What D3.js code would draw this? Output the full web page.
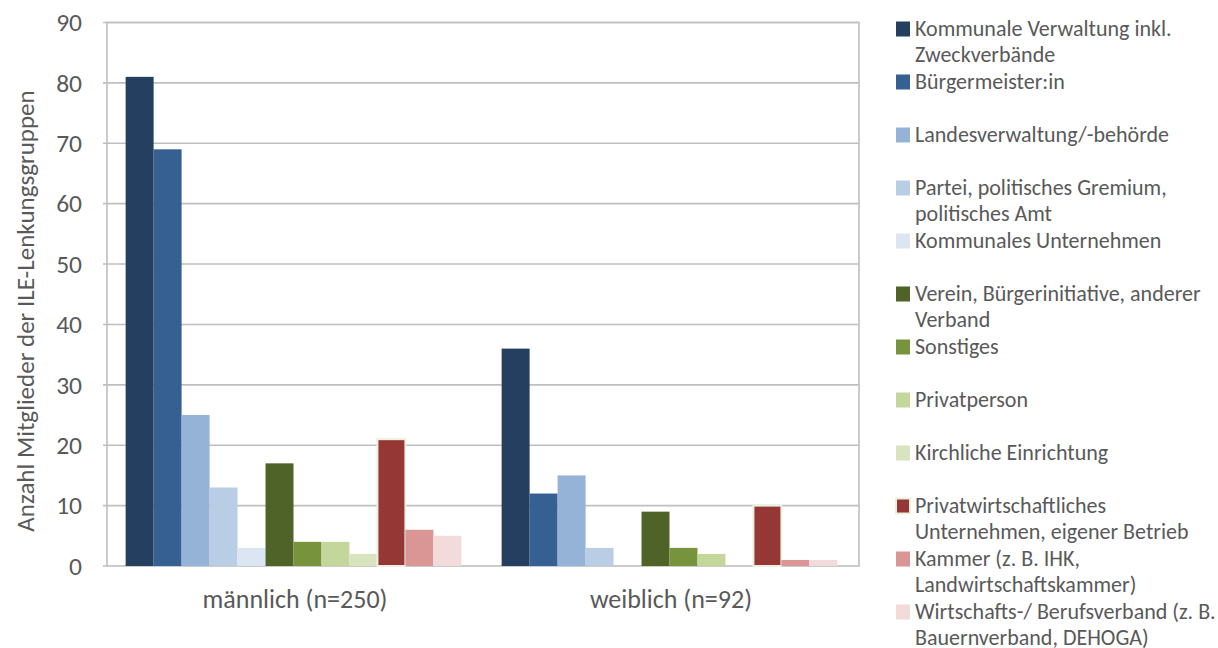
<!DOCTYPE html>
<html><head><meta charset="utf-8">
<script src="https://cdn.jsdelivr.net/npm/d3@7"></script>
<style>body{margin:0;background:#fff}svg{display:block}text{font-family:Carlito,Calibri,"Open Sans",sans-serif;fill:#595959}</style>
</head><body>
<svg id="c" width="1218" height="648"></svg>
<script>
const groups = ["männlich (n=250)", "weiblich (n=92)"];
const seriesNames = [
  ["Kommunale Verwaltung inkl.", "Zweckverbände"],
  ["Bürgermeister:in"],
  ["Landesverwaltung/-behörde"],
  ["Partei, politisches Gremium,", "politisches Amt"],
  ["Kommunales Unternehmen"],
  ["Verein, Bürgerinitiative, anderer", "Verband"],
  ["Sonstiges"],
  ["Privatperson"],
  ["Kirchliche Einrichtung"],
  ["Privatwirtschaftliches", "Unternehmen, eigener Betrieb"],
  ["Kammer (z. B. IHK,", "Landwirtschaftskammer)"],
  ["Wirtschafts-/ Berufsverband (z. B.", "Bauernverband, DEHOGA)"]
];
const maleValues   = [81, 69, 25, 13, 3, 17, 4, 4, 2, 21, 6, 5];
const femaleValues = [36, 12, 15, 3, 0, 9, 3, 2, 0, 10, 1, 1];
const colors = ["#243F60","#376092","#95B3D7","#B9CDE5","#DCE6F2","#4F6228","#77933C","#C3D69B","#D7E4BD","#953735","#D99694","#F2DCDB"];
const yTicks = [0,10,20,30,40,50,60,70,80,90];

const svg = d3.select("#c");
const L = 107, R = 859, T = 22.5, B = 566;
const y = d3.scaleLinear().domain([0,90]).range([B,T]);
const x0 = d3.scaleBand().domain(groups).range([L,R]);
const idx = d3.range(seriesNames.length);
const x1 = d3.scaleBand().domain(idx).range([0,x0.bandwidth()]).paddingOuter(0.72);

// gridlines
svg.append("g").selectAll("line").data(yTicks.slice(1)).join("line")
  .attr("x1",L-4).attr("x2",R).attr("y1",d=>y(d)).attr("y2",d=>y(d))
  .attr("stroke","#BFBFBF").attr("stroke-width",1.6);
// box
svg.append("rect").attr("x",L).attr("y",T).attr("width",R-L).attr("height",B-T)
  .attr("fill","none").attr("stroke","#BFBFBF").attr("stroke-width",1.6);
svg.append("line").attr("x1",L-4).attr("x2",L).attr("y1",B).attr("y2",B).attr("stroke","#BFBFBF").attr("stroke-width",1.6);

const data = groups.map((g,gi)=>({g, vals: gi===0?maleValues:femaleValues}));
svg.append("g").selectAll("g").data(data).join("g")
  .attr("transform",d=>`translate(${x0(d.g)-1.5},0)`)
  .selectAll("rect").data(d=>d.vals.map((v,i)=>({v,i}))).join("rect")
  .attr("x",d=>x1(d.i)).attr("width",x1.bandwidth())
  .attr("y",d=>y(d.v)).attr("height",d=>B-y(d.v))
  .attr("fill",d=>colors[d.i])
  .attr("stroke",d=>d.i===9?"#EBF1DE":"none").attr("stroke-width",d=>d.i===9?2:0);

// y axis labels
const yAxis = d3.axisLeft(y).tickValues(yTicks).tickSize(0).tickPadding(0);
const ya = svg.append("g").attr("transform",`translate(${L-25},0)`).call(yAxis);
ya.select(".domain").remove();
ya.selectAll("text").style("font-size","25.5px").attr("fill","#595959").attr("font-family","Carlito,Calibri,sans-serif");

// x axis labels
const xAxis = d3.axisBottom(x0).tickSize(0).tickPadding(0);
const xa = svg.append("g").attr("transform",`translate(0,${B})`).call(xAxis);
xa.select(".domain").remove();
xa.selectAll("text").attr("y",42).attr("dy",0).style("font-size","26px").attr("fill","#595959").attr("font-family","Carlito,Calibri,sans-serif");

// y title
svg.append("text").attr("transform","translate(34,311) rotate(-90)")
  .attr("text-anchor","middle").style("font-size","25px")
  .text("Anzahl Mitglieder der ILE-Lenkungsgruppen");

// legend
const lg = svg.append("g").selectAll("g").data(seriesNames).join("g")
  .attr("transform",(d,i)=>`translate(896,${29+i*53})`);
lg.append("rect").attr("x",0).attr("y",-7.5).attr("width",14).attr("height",15)
  .attr("fill",(d,i)=>colors[i]).attr("stroke",(d,i)=>i===9?"#EBF1DE":"none").attr("stroke-width",2);
lg.each(function(d){
  const t = d3.select(this).append("text").attr("x",19).style("font-size","22px");
  d.forEach((line,li)=>t.append("tspan").attr("x",19).attr("y",li*26.5+6.7).text(line));
});
</script>
</body></html>
